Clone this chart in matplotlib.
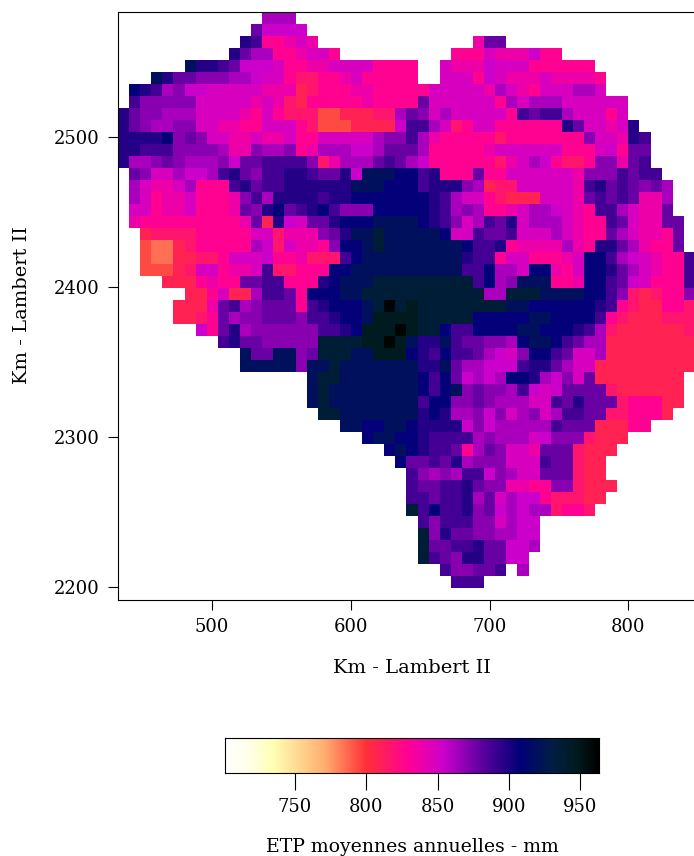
#!/usr/bin/env python3
# -*- coding: utf-8 -*-
import numpy as np
import matplotlib
matplotlib.use('Agg')
import matplotlib.pyplot as plt
from matplotlib.colors import LinearSegmentedColormap

# ETP classes (mm), one letter per grid cell, '.' = no data
LEVEL_CODES = 'abcdefghijklmnopqr'
LEVEL_MM = [785, 794, 808, 817, 828, 838, 848, 854, 862, 870, 878, 888, 897,
            907, 920, 936, 947, 960]

WEST = [
    '.............iii',
    '............khhhh',
    '...........mleefgf',
    '..........mkiieefgge',
    '......ommlkhhhgeeffggggeee',
    '...omkkjjjiihggeddeefgeeee',
    '.nmlijhhgggggfffcdeeeffeee',
    '.ljjjjjgggggfgfdceeeeefeee',
    'mkjjiiiggggfegedddbbcccddi',
    'mkjiijjggffeegggedbbbcccch',
    'mmmmnjkjggffgffgeegggggijj',
    'mmllljjjjiffjiijefiiihhikk',
    'miijkjiiijhkklllljdfiiiklk',
    '.kjggihhilmkjllmmlkkmhooon',
    '.igffgieeelmkllmmmmmmooonn',
    '.igeffgeeefjlimmmmlmmnnnnn',
    '.ggeffgeeefkjmnklmnljjjnnn',
    '.feeeeeeeeefkcmhgkkmnnnooo',
    '..cddddeeeeeggdfffjkmoopoo',
    '..baacdeeeeeihdgffejnnopoo',
    '..baaccddegggheefdddlnoooo',
    '..bbbcdggeffglddeeennooooo',
    '....cccefeekklleeemnoooppp',
    '......ccegccillkennnoopppp',
    '.....cccfklijkkkelmnnnoprp',
    '.....ccdekijjkkkjllmnnoqqq',
    '.......hekmijjjjjjllmnqqqr',
    '.........lmkkjjjjjppppqqrq',
    '...........okkoojkpppooqqq',
    '...........ooooojoopoooooo',
    '.................oppoooooo',
    '.................opooooooo',
    '.................opooooooo',
    '..................ppoooooo',
    '....................oonnoo',
    '......................noon',
    '........................no',
    '.........................n',
]

EAST = [
    '',
    '',
    '......fkk',
    '....eeegfffhee',
    'e..gfffhgggeeeeee',
    'e..gggehgfffgffffe',
    'eegggggfigfegggiig',
    'ekggggggeigiiigggggg',
    'kjgigggggelklligggeg',
    'lligdeggeeeeeemkggfgm',
    'lifeeeeedeeeeeeejggfml',
    'kieeeeefggggggeeeghekk',
    'iheeeeeedfgiheddejjfkl',
    'nlmeeekeeggggggfjjjlkll',
    'nlmmmjicddgggggflmklkjki',
    'nnmliggedcccgggfklklkffi',
    'nnmlijieefgiihgfelligffk',
    'onmljgilkmgiiigfeelkgffkk',
    'ooongglkklgggigfeekigffek',
    'ooooonllmeffffifemmkifeek',
    'ooooomlleggeeefgnnlihgfeel',
    'oooooll' 'niignnfegnnmkigfeel',
    'pppppplnijoooeefnnlkhgeeel',
    'pppppppiipppoooonnljdcdeej',
    'qppppppppoonnnnnnmledcceed',
    'qpppppnnnnnoonnnnledcccddd',
    'qppnllnnnnoonnnmlidccccccd',
    'ommolkkjjinoonlkiicccccccc',
    'nmlnllkihgjnnlkggicccccccc',
    'ommokiihhhlmmkiggccccccccc',
    'onlnkhihinnmihjgkcccccccc',
    'onlnojkjjilhghkkkkdcccccc',
    'olnnjjkjiiigglkmkkkdeeecc',
    'omnmiijhjgijgillkkddeeec',
    'nmmmmhjhiiiiilkkkcccee',
    'nmllllijiiighjjjdccc',
    'nmllkeikjggfkkkdccc',
    'kklkmijjjggglkkdcc',
    'ljijillhjiggkkkdcc',
    'lkkllmkjjffeejjdccc',
    'llkllmikgihhedddcc',
    'plnllmjkhihiideed',
    '.ljllljjgihh',
    '.pjmkkjjiihh',
    '.pkkllmkkhhi',
    '.plkjmmkkhh',
    '...ljjkkl.i',
    '....lll',
]

X_TICKS = [500, 600, 700, 800]
Y_TICKS = [2200, 2300, 2400, 2500]
CBAR_TICKS = [750, 800, 850, 900, 950]
CBAR_RANGE = (701, 963)
XLIM = (432, 847.6)
YLIM = (2191, 2583)

# colour ramp stops, mm
RAMP_MM = [701, 715, 735, 770, 800, 830, 854, 880, 908, 930, 947, 963]
RAMP_COLORS = ['#ffffff', '#ffffee', '#ffffb4', '#ffb070', '#ff3038', '#ff0098',
               '#cc00cc', '#6000a0', '#000078', '#001e45', '#001c20', '#000000']


def cell_value(code):
    if code == '.':
        return np.nan
    return LEVEL_MM[LEVEL_CODES.index(code)]


def build_grid():
    rows = []
    for i in range(49):
        west = WEST[i] if i < len(WEST) else ''
        east = EAST[i] if i < len(EAST) else ''
        row = west.ljust(26, '.') + east.ljust(26, '.')
        rows.append([cell_value(c) for c in row])
    return np.array(rows, dtype=float)


def main():
    plt.rcParams['font.family'] = ['DejaVu Serif']

    pos = [(m - CBAR_RANGE[0]) / (CBAR_RANGE[1] - CBAR_RANGE[0]) for m in RAMP_MM]
    cmap = LinearSegmentedColormap.from_list('etp', list(zip(pos, RAMP_COLORS)), N=512)

    fig = plt.figure(figsize=(6.94, 8.56), dpi=100)
    W, H = 694.0, 856.0

    ax = fig.add_axes([117.5 / W, 1 - 600 / H, 577 / W, 587.5 / H])
    ax.imshow(build_grid(), cmap=cmap, vmin=CBAR_RANGE[0], vmax=CBAR_RANGE[1],
              extent=(XLIM[0], XLIM[1], YLIM[0], YLIM[1]), aspect='auto',
              interpolation='nearest', origin='upper')
    ax.set_xlim(XLIM)
    ax.set_ylim(YLIM)
    ax.set_xticks(X_TICKS)
    ax.set_yticks(Y_TICKS)
    ax.tick_params(length=7, width=0.8, pad=6, labelsize=13)
    ax.set_xlabel('Km - Lambert II', fontsize=14)
    ax.set_ylabel('Km - Lambert II', fontsize=14)
    ax.xaxis.set_label_coords((411.5 - 117.5) / 577, -(668 - 600) / 587.5)
    ax.xaxis.label.set_verticalalignment('center')
    ax.yaxis.set_label_coords((22 - 117.5) / 577, (600 - 305.5) / 587.5)
    ax.yaxis.label.set_verticalalignment('center')

    cax = fig.add_axes([225 / W, 1 - 773 / H, 374 / W, 35 / H])
    ramp = np.linspace(CBAR_RANGE[0], CBAR_RANGE[1], 512).reshape(1, -1)
    cax.imshow(ramp, cmap=cmap, vmin=CBAR_RANGE[0], vmax=CBAR_RANGE[1],
               extent=(CBAR_RANGE[0], CBAR_RANGE[1], 0, 1), aspect='auto')
    cax.set_yticks([])
    cax.set_xticks(CBAR_TICKS)
    cax.tick_params(length=12, width=0.8, pad=6, labelsize=13)
    cax.set_xlabel('ETP moyennes annuelles - mm', fontsize=13.6)
    cax.xaxis.set_label_coords(0.5, -(847 - 773) / 35)
    cax.xaxis.label.set_verticalalignment('center')

    plt.savefig('out.png', dpi=100)


if __name__ == "__main__":
    main()
